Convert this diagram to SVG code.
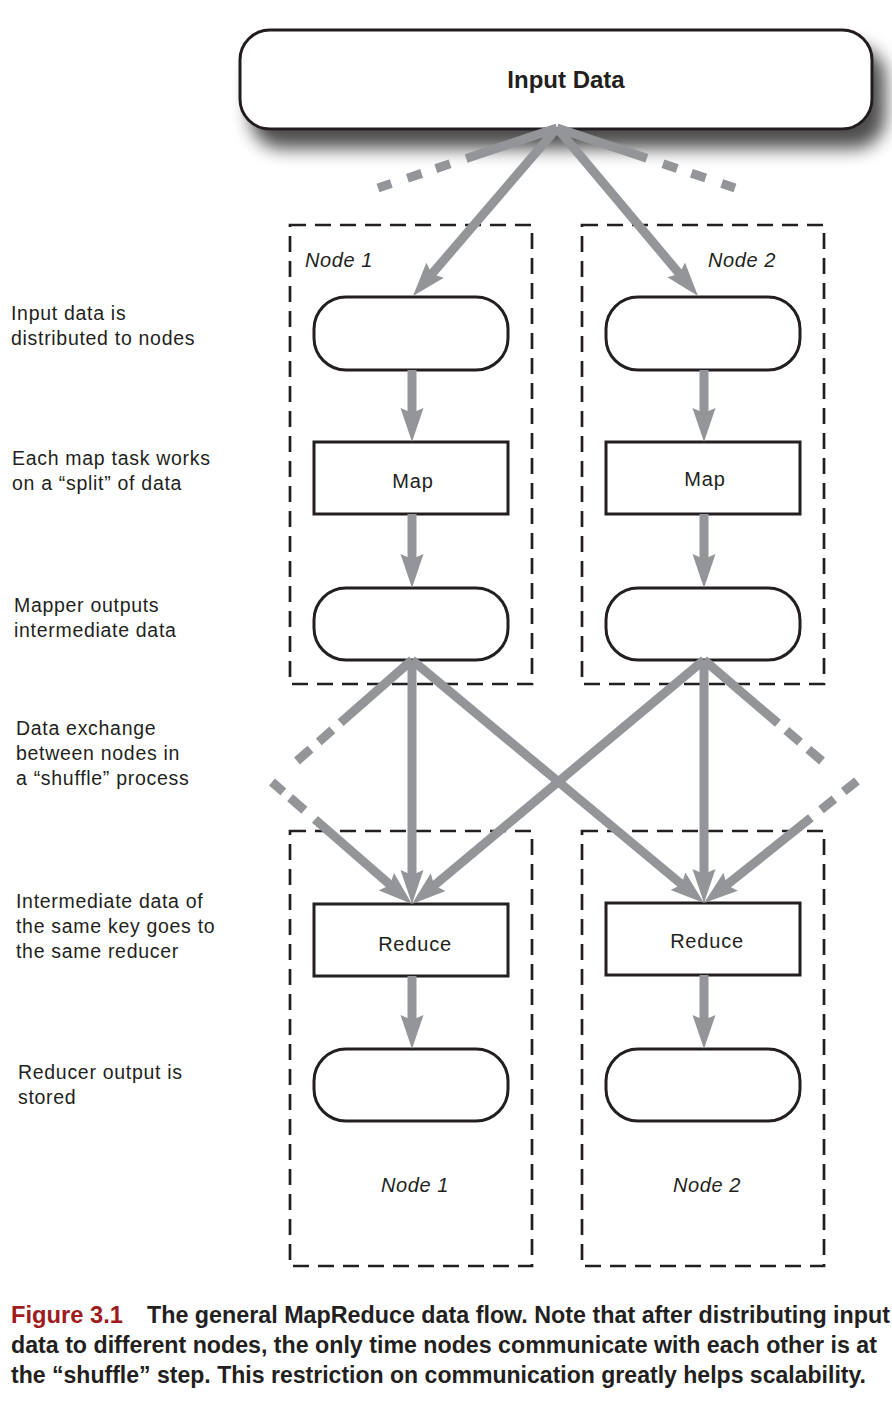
<svg xmlns="http://www.w3.org/2000/svg" width="892" height="1420" viewBox="0 0 892 1420">
<style>
.bg{fill:#fff}
.box{fill:#fff;stroke:#231f20;stroke-width:3}
.grp{fill:none;stroke:#231f20;stroke-width:2.7;stroke-dasharray:16 9}
.lbl{font-family:"Liberation Sans",Arial,sans-serif;font-size:19.5px;letter-spacing:0.7px;fill:#231f20}
.in{font-family:"Liberation Sans",Arial,sans-serif;font-size:20px;letter-spacing:0.8px;fill:#231f20;text-anchor:middle}
.nd{font-family:"Liberation Sans",Arial,sans-serif;font-size:20px;letter-spacing:0.6px;font-style:italic;fill:#231f20}
.title{font-family:"Liberation Sans Narrow","Liberation Sans",Arial,sans-serif;font-size:24px;font-weight:bold;fill:#231f20;text-anchor:middle}
.cap{font-family:"Liberation Sans Narrow","Liberation Sans",Arial,sans-serif;font-size:23px;font-weight:bold;fill:#231f20}
.fig{fill:#9e1b20}
.c{fill:none;stroke:#939598;stroke-width:9}
.ca{fill:none;stroke:#939598;stroke-width:9;marker-end:url(#ah)}
</style>
<defs>
<marker id="ah" markerUnits="userSpaceOnUse" markerWidth="36" markerHeight="24" refX="10" refY="11.5" orient="auto">
<path d="M0,0 L34,11.5 L0,23 L5,11.5 Z" fill="#939598"/>
</marker>
<filter id="sh" x="-10%" y="-30%" width="125%" height="200%">
<feGaussianBlur in="SourceAlpha" stdDeviation="9"/>
<feOffset dx="12" dy="18" result="b"/>
<feComponentTransfer><feFuncA type="linear" slope="0.7"/></feComponentTransfer>
<feMerge><feMergeNode/><feMergeNode in="SourceGraphic"/></feMerge>
</filter>
</defs>
<rect class="bg" x="0" y="0" width="892" height="1420"/>

<g id="input-data">
<rect class="box" x="240" y="30" width="632" height="99" rx="30" filter="url(#sh)"/>
<text class="title" x="566" y="88">Input Data</text>
</g>

<g id="node1-map-group">
<rect class="grp" x="290" y="225" width="242" height="459"/>
<text class="nd" x="305" y="267">Node 1</text>
</g>
<g id="node2-map-group">
<rect class="grp" x="582" y="225" width="242" height="459"/>
<text class="nd" x="708" y="267">Node 2</text>
</g>
<g id="node1-reduce-group">
<rect class="grp" x="290" y="831" width="242" height="435"/>
<text class="nd" x="415" y="1192" text-anchor="middle">Node 1</text>
</g>
<g id="node2-reduce-group">
<rect class="grp" x="582" y="831" width="242" height="435"/>
<text class="nd" x="707" y="1192" text-anchor="middle">Node 2</text>
</g>

<g id="n1-input"><rect class="box" x="314" y="297" width="194" height="73" rx="32"/></g>
<g id="n2-input"><rect class="box" x="606" y="297" width="194" height="73" rx="32"/></g>
<g id="n1-map"><rect class="box" x="314" y="442" width="194" height="72"/><text class="in" x="413" y="488">Map</text></g>
<g id="n2-map"><rect class="box" x="606" y="442" width="194" height="72"/><text class="in" x="705" y="486">Map</text></g>
<g id="n1-intermediate"><rect class="box" x="314" y="588" width="194" height="72" rx="32"/></g>
<g id="n2-intermediate"><rect class="box" x="606" y="588" width="194" height="72" rx="32"/></g>
<g id="n1-reduce"><rect class="box" x="314" y="904" width="194" height="72"/><text class="in" x="415" y="951">Reduce</text></g>
<g id="n2-reduce"><rect class="box" x="606" y="903" width="194" height="72"/><text class="in" x="707" y="948">Reduce</text></g>
<g id="n1-output"><rect class="box" x="314" y="1049" width="194" height="72" rx="32"/></g>
<g id="n2-output"><rect class="box" x="606" y="1049" width="194" height="72" rx="32"/></g>

<g id="connectors">
<path class="c" d="M378,188 L557,128" stroke-dasharray="14 17 15 15 15 17 1000"/>
<path class="c" d="M735,188 L557,128" stroke-dasharray="14 17 15 15 15 17 1000"/>
<path class="ca" d="M557,128 L428.6,277.8"/>
<path class="ca" d="M557,128 L682.6,277.6"/>
<path class="ca" d="M412,370 L412,418"/>
<path class="ca" d="M704,370 L704,418"/>
<path class="ca" d="M412,514 L412,564"/>
<path class="ca" d="M704,514 L704,564"/>
<path class="c" d="M297,761 L412,660" stroke-dasharray="18 11 18 11 1000"/>
<path class="c" d="M822,761 L704,660" stroke-dasharray="18 11 18 11 1000"/>
<path class="ca" d="M412,660 L412,880"/>
<path class="ca" d="M412,660 L685.6,887.6"/>
<path class="ca" d="M704,660 L430.4,888.6"/>
<path class="ca" d="M704,660 L704,879"/>
<path class="ca" d="M272,782 L393.9,888.2" stroke-dasharray="15 9 19 14 1000"/>
<path class="ca" d="M857,781 L722.8,888" stroke-dasharray="17 12 17 13 1000"/>
<path class="ca" d="M412,976 L412,1025"/>
<path class="ca" d="M704,975 L704,1025"/>
</g>

<g id="side-labels">
<text class="lbl" x="11" y="320">Input data is</text>
<text class="lbl" x="11" y="345">distributed to nodes</text>
<text class="lbl" x="12" y="465">Each map task works</text>
<text class="lbl" x="12" y="490">on a “split” of data</text>
<text class="lbl" x="14" y="612">Mapper outputs</text>
<text class="lbl" x="14" y="637">intermediate data</text>
<text class="lbl" x="16" y="735">Data exchange</text>
<text class="lbl" x="16" y="760">between nodes in</text>
<text class="lbl" x="16" y="785">a “shuffle” process</text>
<text class="lbl" x="16" y="908">Intermediate data of</text>
<text class="lbl" x="16" y="933">the same key goes to</text>
<text class="lbl" x="16" y="958">the same reducer</text>
<text class="lbl" x="18" y="1079">Reducer output is</text>
<text class="lbl" x="18" y="1104">stored</text>
</g>

<g id="caption">
<text class="cap fig" x="11" y="1323" textLength="112" lengthAdjust="spacingAndGlyphs">Figure 3.1</text>
<text class="cap" x="147" y="1323" textLength="743" lengthAdjust="spacingAndGlyphs">The general MapReduce data flow. Note that after distributing input</text>
<text class="cap" x="11" y="1353" textLength="866" lengthAdjust="spacingAndGlyphs">data to different nodes, the only time nodes communicate with each other is at</text>
<text class="cap" x="11" y="1383" textLength="855" lengthAdjust="spacingAndGlyphs">the “shuffle” step. This restriction on communication greatly helps scalability.</text>
</g>
</svg>
